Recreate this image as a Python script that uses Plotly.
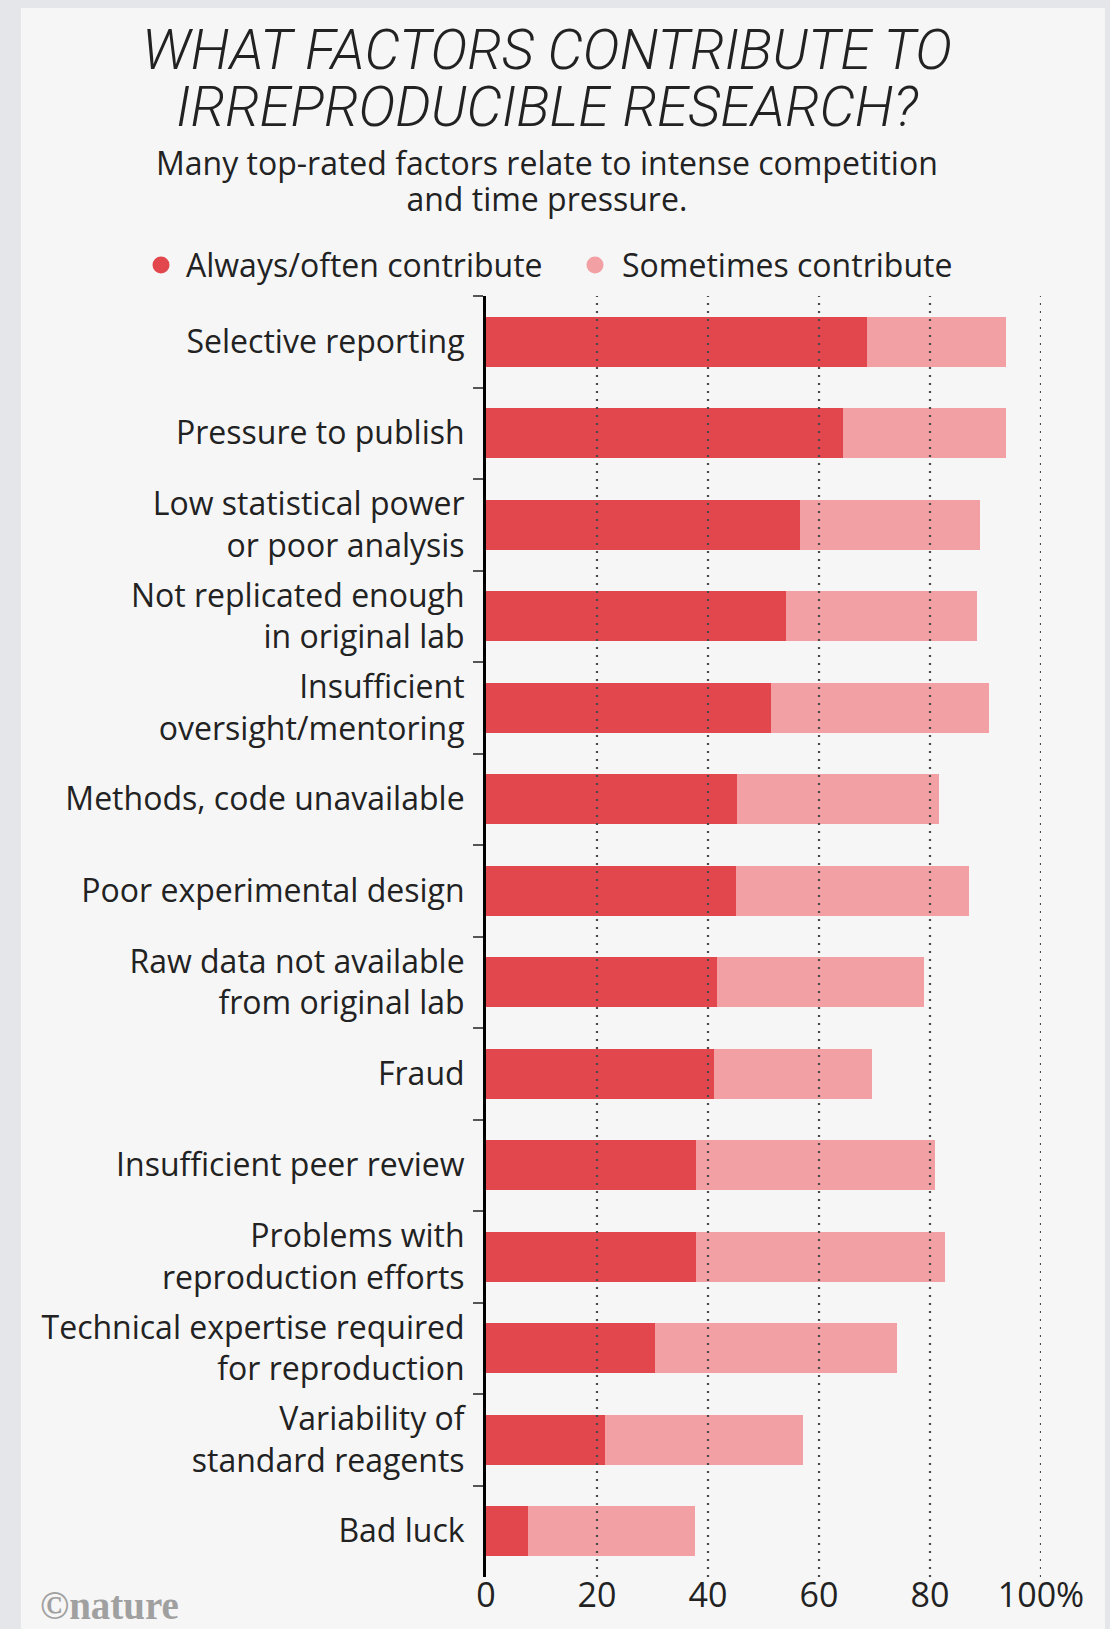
import plotly.graph_objects as go

# ---------------- data ----------------
categories = [
    "Selective reporting",
    "Pressure to publish",
    "Low statistical power<br>or poor analysis",
    "Not replicated enough<br>in original lab",
    "Insufficient<br>oversight/mentoring",
    "Methods, code unavailable",
    "Poor experimental design",
    "Raw data not available<br>from original lab",
    "Fraud",
    "Insufficient peer review",
    "Problems with<br>reproduction efforts",
    "Technical expertise required<br>for reproduction",
    "Variability of<br>standard reagents",
    "Bad luck",
]
always_often = [68.7, 64.4, 56.5, 54.1, 51.3, 45.3, 45.0, 41.6, 41.0, 37.8, 37.8, 30.5, 21.5, 7.6]
sometimes = [25.0, 29.3, 32.5, 34.3, 39.3, 36.4, 42.0, 37.4, 28.6, 43.1, 44.9, 43.6, 35.6, 30.0]
series_names = ["Always/often contribute", "Sometimes contribute"]
x_tickvals = [0, 20, 40, 60, 80, 100]
x_ticktext = ["0", "20", "40", "60", "80", "100%"]
grid_vals = [20, 40, 60, 80, 100]

title_lines = ["WHAT FACTORS CONTRIBUTE TO", "IRREPRODUCIBLE RESEARCH?"]
subtitle_lines = ["Many top-rated factors relate to intense competition", "and time pressure."]
credit = "©nature"

# ---------------- layout constants ----------------
W, H = 1110, 1629
L, R, T, B = 486, 69, 296, 52
PW, PH = W - L - R, H - T - B

DARK = "#E1474C"
LIGHT = "#F2A0A3"
TEXT = "#222222"
LABEL_FONT = "Open Sans, Lato, Roboto, sans-serif"
TITLE_FONT = "Roboto, Liberation Sans, sans-serif"


def px_x(px):
    return (px - L) / PW


def px_y(py):
    return 1 - (py - T) / PH


def stacked_text(lines, glyph_px):
    # each line drawn at glyph_px; line pitch set by the annotation's base font size
    return "<br>".join(f'<span style="font-size:{glyph_px}px">{ln}</span>' for ln in lines)


fig = go.Figure()
fig.add_trace(go.Bar(y=categories, x=always_often, orientation="h", name=series_names[0],
                     marker=dict(color=DARK, line=dict(width=0)), showlegend=False,
                     hoverinfo="x+y"))
fig.add_trace(go.Bar(y=categories, x=sometimes, orientation="h", name=series_names[1],
                     marker=dict(color=LIGHT, line=dict(width=0)), showlegend=False,
                     hoverinfo="x+y"))

shapes = [
    dict(type="rect", xref="paper", yref="paper", x0=px_x(21), x1=px_x(1105),
         y0=px_y(H + 20), y1=px_y(8), fillcolor="#f6f6f6", line=dict(width=0), layer="below"),
]
for g in grid_vals:
    shapes.append(dict(type="line", xref="x", yref="paper", x0=g, x1=g, y0=0, y1=1,
                       line=dict(color="#4a4a4a", width=2.2, dash="2px,6px"), layer="above"))

# legend: circle swatches + labels
legend_dot_x = [161, 595]
legend_text_x = [184, 620]
legend_y = 265
for cx, col in zip(legend_dot_x, [DARK, LIGHT]):
    r = 8.5
    shapes.append(dict(type="circle", xref="paper", yref="paper",
                       x0=px_x(cx - r), x1=px_x(cx + r), y0=px_y(legend_y + r), y1=px_y(legend_y - r),
                       fillcolor=col, line=dict(width=0), layer="above"))

annotations = [
    dict(text=stacked_text(title_lines, 56), x=px_x(547), y=px_y(78.5), xref="paper", yref="paper",
         showarrow=False, xanchor="center", yanchor="middle", align="center",
         font=dict(family=TITLE_FONT, size=57 / 1.3, color=TEXT, style="italic", weight=300)),
    dict(text=stacked_text(subtitle_lines, 32), x=px_x(547), y=px_y(181), xref="paper", yref="paper",
         showarrow=False, xanchor="center", yanchor="middle", align="center",
         font=dict(family=LABEL_FONT, size=36 / 1.3, color=TEXT)),
    dict(text=credit, x=px_x(38), y=px_y(1605), xref="paper", yref="paper",
         showarrow=False, xanchor="left", yanchor="middle",
         font=dict(family="Liberation Serif, DejaVu Serif, serif", size=39, color="#a0a0a0",
                   weight="bold")),
]
for tx, nm in zip(legend_text_x, series_names):
    annotations.append(dict(text=nm, x=px_x(tx), y=px_y(legend_y), xref="paper", yref="paper",
                            showarrow=False, xanchor="left", yanchor="middle",
                            font=dict(family=LABEL_FONT, size=32, color=TEXT)))

fig.update_layout(
    width=W, height=H,
    margin=dict(l=L, r=R, t=T, b=B, autoexpand=False),
    paper_bgcolor="#e4e6ea",
    plot_bgcolor="rgba(0,0,0,0)",
    barmode="stack",
    bargap=0.45,
    shapes=shapes,
    annotations=annotations,
    showlegend=False,
    xaxis=dict(range=[0, 100], tickvals=x_tickvals, ticktext=x_ticktext,
               showgrid=False, zeroline=False, showline=False, ticks="",
               ticklabelstandoff=-5,
               tickfont=dict(family=LABEL_FONT, size=34, color=TEXT), fixedrange=True),
    yaxis=dict(type="category", categoryorder="array", categoryarray=categories,
               range=[13.5, -0.5], showgrid=False, zeroline=False,
               showline=True, linecolor="#000000", linewidth=3,
               ticks="outside", tickson="boundaries", ticklen=10, tickwidth=1.5,
               tickcolor="#555555", layer="above traces", ticklabelstandoff=12,
               tickfont=dict(family=LABEL_FONT, size=32, color=TEXT), fixedrange=True),
)

fig.write_html("out.html", config={"displayModeBar": False},
               post_script="document.body.style.margin='0';document.body.style.overflow='hidden';")
